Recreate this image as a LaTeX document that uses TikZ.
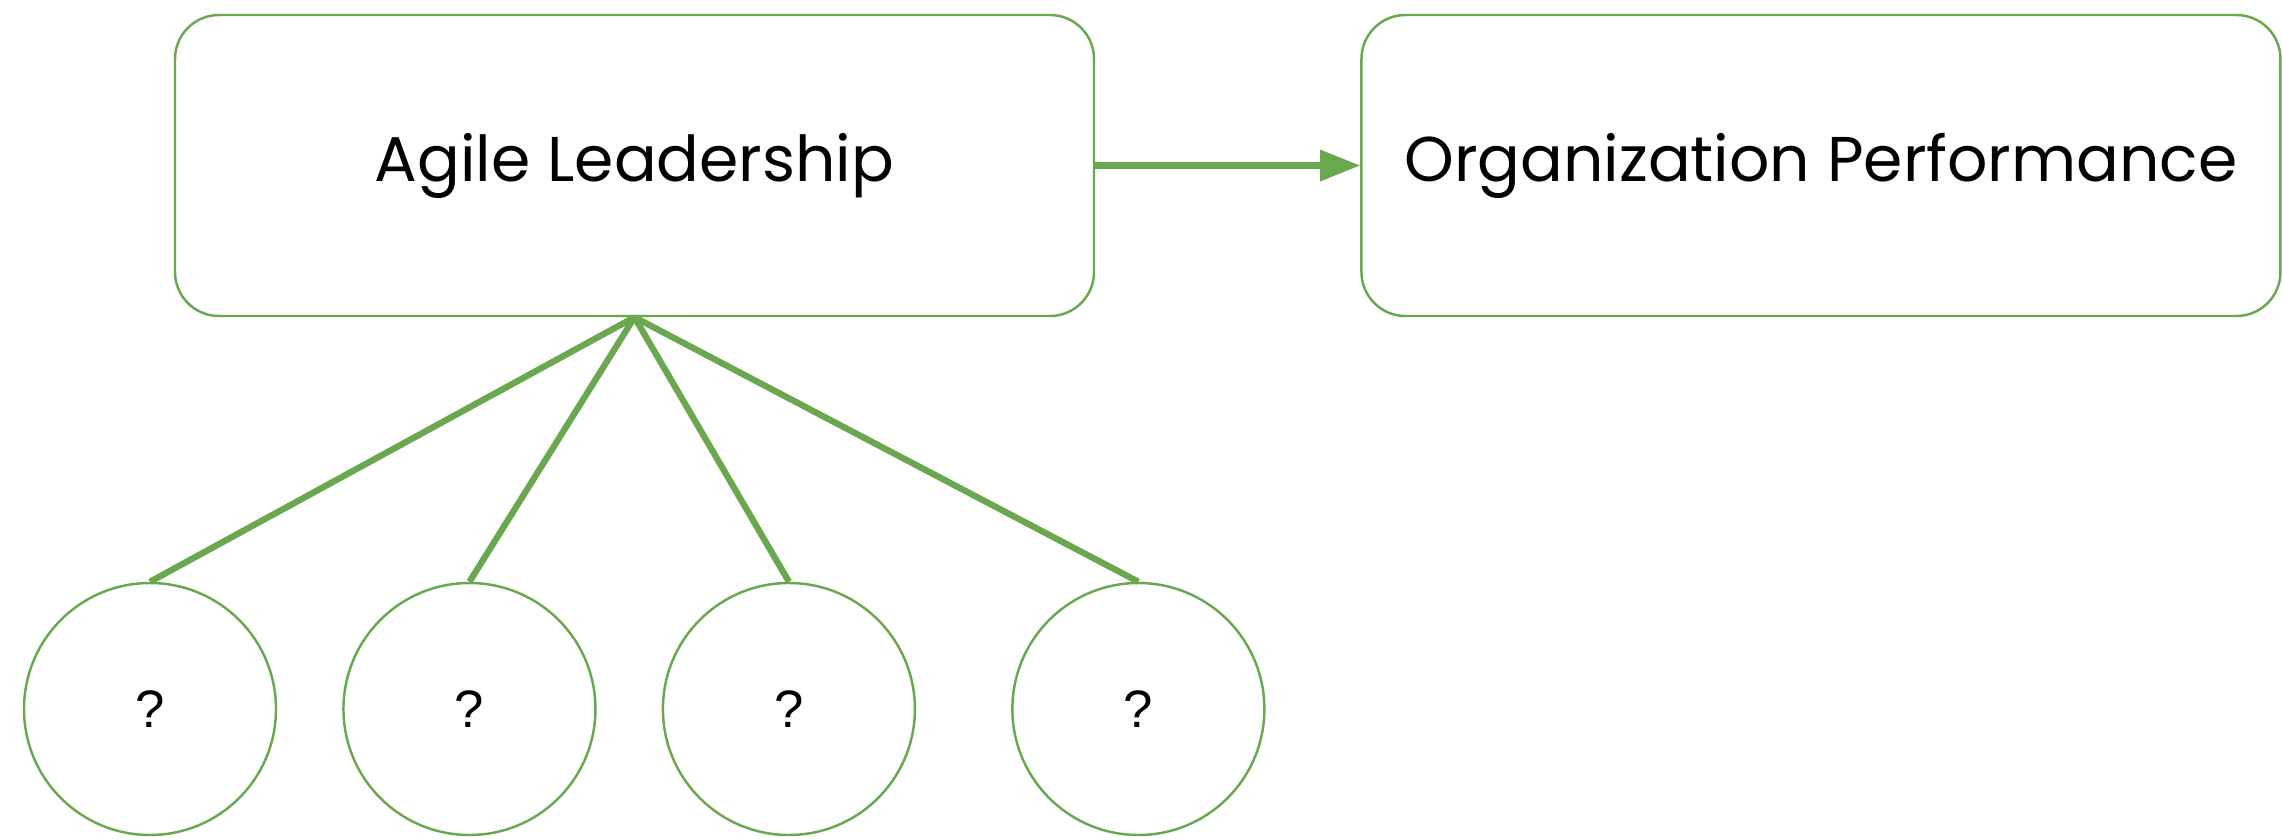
\documentclass[tikz,border=0pt]{standalone}
\usepackage{fontspec}
\setmainfont{Poppins}
\newfontfamily\qfont{Liberation Sans}
\usetikzlibrary{arrows.meta,positioning}
\definecolor{leafgreen}{HTML}{6AA84F}
\tikzset{
    %Define style for boxes
    factor/.style={
           rectangle,
           rounded corners=0.44cm,
           draw=leafgreen, line width=0.7pt,
           minimum width=9.19cm,
           minimum height=3.01cm,
           inner xsep=2pt,
           font=\fontsize{18}{22}\selectfont,
           text centered},
    unknown/.style={
           circle,
           draw=leafgreen, line width=0.7pt,
           minimum size=2.52cm,
           inner sep=0pt,
           font=\qfont\fontsize{15}{18}\selectfont,
           text centered},
    % Define connector styles
    link/.style={
           draw=leafgreen,
           line width=1.8pt},
    pil/.style={
           link,
           -{Triangle[length=0.4cm,width=0.3cm]}}
}
\begin{document}
\begin{tikzpicture}
\useasboundingbox (0,0) rectangle (22.82,8.39);
 %nodes
\node[factor] (lead) at (6.345,6.735) {Agile Leadership};
\node[factor, right=2.65cm of lead] (perf) {Organization Performance};
\node[unknown] (q1) at (1.50,1.30) {?};
\node[unknown, right=0.65cm of q1] (q2) {?};
\node[unknown, right=0.65cm of q2] (q3) {?};
\node[unknown, right=0.95cm of q3] (q4) {?};

 %connectors
\draw[pil] (lead) -- (perf);
\foreach \q in {q1,q2,q3,q4}
    \draw[link] (lead.south) -- (\q.north);
\end{tikzpicture}
\end{document}
